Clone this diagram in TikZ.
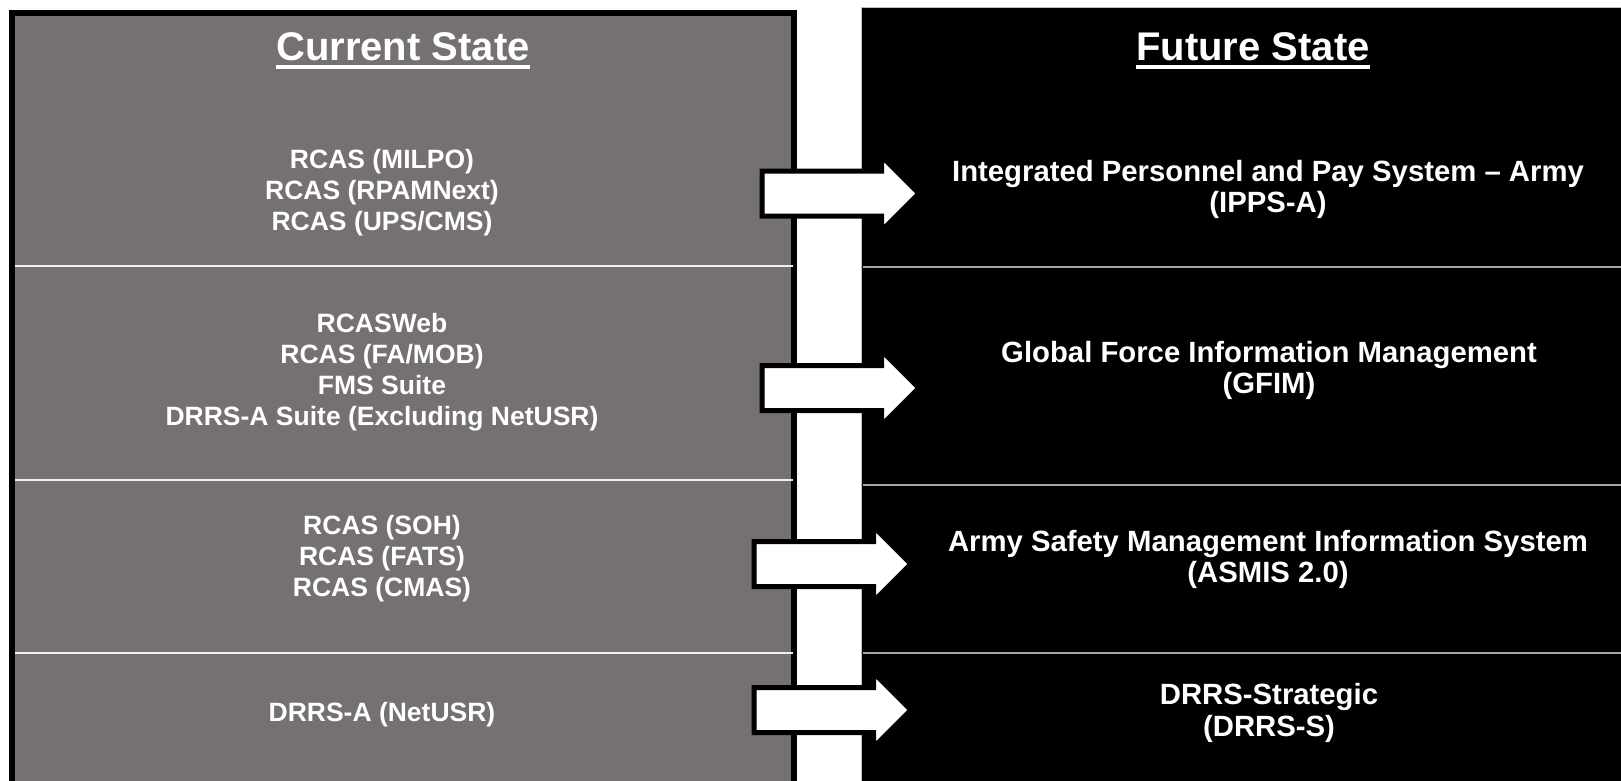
\documentclass[tikz,border=0pt]{standalone}
\usepackage{fontspec}
\setmainfont{Liberation Sans}
\usetikzlibrary{shapes.arrows, positioning}
\definecolor{panelgray}{RGB}{117,113,112}
\tikzset{
    every node/.style={text=white, font=\bfseries\fontsize{26.5}{31}\selectfont, align=center}, % all texts are white and bold
    future/.style={font=\bfseries\fontsize{29.3}{31.5}\selectfont},
    heading/.style={font=\bfseries\fontsize{40}{48}\selectfont, anchor=base, inner sep=0pt},
    underline/.style={white, line width=3.5pt},
    divider/.style={line width=1.5pt},
}
\tikzset{bigarrow/.style={
        single arrow, draw=black, fill=white, line width=5pt, inner sep=20pt,
        single arrow head extend=15pt, minimum height=157pt, anchor=tail,
    }
}

\begin{document}
\begin{tikzpicture}[x=1pt, y=-1pt]
        \useasboundingbox (0,0) rectangle (1621,781);
        \clip (0,0) rectangle (1621,781);
        % Panels
        \draw[fill=panelgray, line width=6pt] (12,13) rectangle (794,800);
        \draw[fill=black, draw=gray!50, line width=1pt] (861,8) rectangle (1630,790);
        \draw[divider, white!90!gray] (15,266) -- (793,266) (15,480) -- (793,480) (15,653) -- (793,653);
        \draw[divider, gray!70] (863,267) -- (1621,267) (863,485) -- (1621,485) (863,653) -- (1621,653);

        % Headings
        \node[heading] (curhd) at (403,61) {Current State};
        \node[heading] (futhd) at (1253,61) {Future State};
        \draw[underline] ([yshift=-6pt]curhd.base west) -- ([yshift=-6pt]curhd.base east);
        \draw[underline] ([yshift=-6pt]futhd.base west) -- ([yshift=-6pt]futhd.base east);

        % Nodes
        \node (cur1) at (382,192.5) {RCAS (MILPO)\\RCAS (RPAMNext)\\RCAS (UPS/CMS)};
        \node (cur2) at (382,372.5) {RCASWeb\\RCAS (FA/MOB)\\FMS Suite\\DRRS-A Suite (Excluding NetUSR)};
        \node (cur3) at (382,559) {RCAS (SOH)\\RCAS (FATS)\\RCAS (CMAS)};
        \node (cur4) at (382,715) {DRRS-A (NetUSR)};
        \node[future] (fut1) at (1268,189.5) {Integrated Personnel and Pay System -- Army\\(IPPS-A)};
        \node[future] (fut2) at (1269,370.5) {Global Force Information Management\\(GFIM)};
        \node[future] (fut3) at (1268,559.5) {Army Safety Management Information System\\(ASMIS 2.0)};
        \node[future] (fut4) at (1269,713) {DRRS-Strategic\\(DRRS-S)};

        % Draw arrows
        \node[bigarrow] (arr1) at (759.5,193.5) {};
        \node[bigarrow] (arr2) at (759.5,388) {};
        \node[bigarrow] (arr3) at (751.5,564) {};
        \node[bigarrow] (arr4) at (751.5,710) {};
    \end{tikzpicture}
\end{document}
